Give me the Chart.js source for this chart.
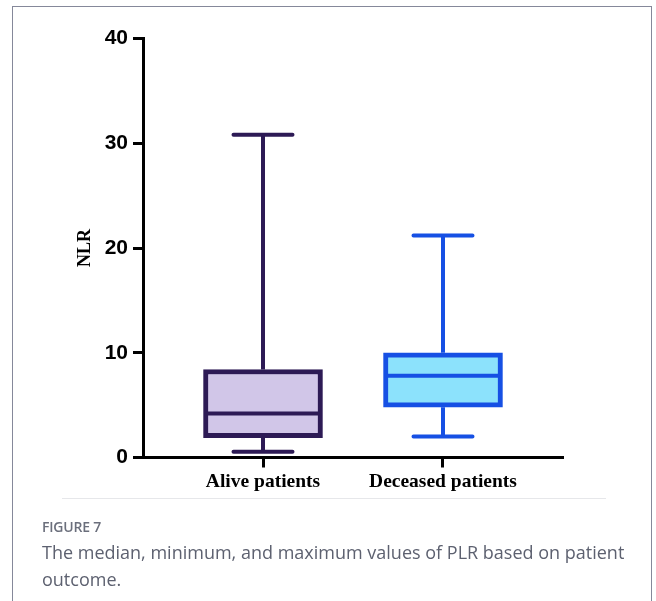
<!DOCTYPE html>
<html lang="en">
  <head>
    <meta charset="UTF-8" />
    <title>Figure 7 - NLR by outcome</title>
    <style>
      html,
      body {
        margin: 0;
        padding: 0;
        background: #fff;
      }
      .frame {
        position: absolute;
        left: 12px;
        top: 6px;
        width: 638px;
        height: 620px;
        border: 1.5px solid #85889a;
        border-bottom: none;
      }
      .chart-wrapper {
        position: absolute;
        left: 0;
        top: 0;
        width: 656px;
        height: 500px;
      }
      .rule {
        position: absolute;
        left: 62px;
        top: 498px;
        width: 544px;
        height: 1px;
        background: #e6e7ea;
      }
      .caption {
        position: absolute;
        left: 42px;
        top: 515px;
        width: 610px;
        font-family: "Open Sans", sans-serif;
        color: #5d6170;
      }
      .caption__label {
        font-size: 14px;
        font-weight: 600;
        letter-spacing: -0.2px;
        color: #6b6f7c;
        line-height: 24px;
      }
      .caption__text {
        font-size: 18px;
        font-weight: 400;
        line-height: 27px;
      }
    </style>
  </head>
  <body>
    <div class="frame"></div>
    <div class="chart-wrapper">
      <canvas id="chartBox" width="656" height="500"></canvas>
    </div>
    <div class="rule"></div>
    <div class="caption">
      <div class="caption__label">FIGURE 7</div>
      <div class="caption__text">
        The median, minimum, and maximum values of PLR based on patient
        outcome.
      </div>
    </div>
    <script src="https://cdn.jsdelivr.net/npm/chart.js"></script>
    <script>
      const groups = ["Alive patients", "Deceased patients"];
      const minValues = [0.55, 2.0];
      const q1Values = [1.9, 4.8];
      const medianValues = [4.2, 7.8];
      const q3Values = [8.4, 10.0];
      const maxValues = [30.8, 21.2];
      const yTicks = [0, 10, 20, 30, 40];

      const lineColors = ["#2d1a55", "#1650e4"];
      const fillColors = ["#d1c6e8", "#8ce2fc"];

      // whiskers, caps and median lines on top of the floating bars
      const whiskers = {
        id: "whiskers",
        afterDatasetsDraw(chart) {
          const { ctx, scales } = chart;
          const x = scales.x;
          const y = scales.y;
          const meta = chart.getDatasetMeta(0);
          ctx.save();
          ctx.lineWidth = 4;
          groups.forEach((g, i) => {
            const cx = x.getPixelForValue(i);
            const half = meta.data[i].width / 2;
            const cap = 31.5;
            ctx.strokeStyle = lineColors[i];
            ctx.lineCap = "butt";
            ctx.beginPath();
            ctx.moveTo(cx, y.getPixelForValue(q3Values[i]));
            ctx.lineTo(cx, y.getPixelForValue(maxValues[i]));
            ctx.moveTo(cx, y.getPixelForValue(q1Values[i]));
            ctx.lineTo(cx, y.getPixelForValue(minValues[i]));
            ctx.moveTo(cx - half + 3, y.getPixelForValue(medianValues[i]));
            ctx.lineTo(cx + half - 3, y.getPixelForValue(medianValues[i]));
            ctx.stroke();
            ctx.lineCap = "round";
            ctx.beginPath();
            ctx.moveTo(cx - cap + 2, y.getPixelForValue(maxValues[i]));
            ctx.lineTo(cx + cap - 2, y.getPixelForValue(maxValues[i]));
            ctx.moveTo(cx - cap + 2, y.getPixelForValue(minValues[i]));
            ctx.lineTo(cx + cap - 2, y.getPixelForValue(minValues[i]));
            ctx.stroke();
          });
          ctx.restore();
        },
      };

      new Chart(document.getElementById("chartBox"), {
        type: "bar",
        data: {
          datasets: [
            {
              data: groups.map((g, i) => ({ x: i, y: [q1Values[i], q3Values[i]] })),
              backgroundColor: fillColors,
              borderColor: lineColors,
              borderWidth: 5,
              borderSkipped: false,
              barThickness: 119,
            },
          ],
        },
        options: {
          responsive: false,
          animation: false,
          layout: {
            padding: { top: 38.5, right: 93, bottom: 0, left: 0 },
          },
          plugins: {
            legend: { display: false },
            tooltip: { enabled: false },
          },
          scales: {
            x: {
              type: "linear",
              min: -2 / 3,
              max: 5 / 3,
              offset: false,
              bounds: "data",
              afterBuildTicks(scale) {
                scale.ticks = groups.map((g, i) => ({ value: i }));
              },
              afterFit(scale) {
                scale.height = 42.5;
              },
              ticks: {
                callback: (v) => groups[v],
                color: "#000",
                padding: 3,
                font: {
                  family: "'Liberation Serif', 'Times New Roman', serif",
                  weight: "bold",
                  size: 19.5,
                },
              },
              grid: {
                offset: false,
                drawOnChartArea: false,
                tickLength: 10,
                tickWidth: 3,
                tickColor: "#000",
              },
              border: { color: "#000", width: 3 },
            },
            y: {
              min: 0,
              max: 40,
              afterBuildTicks(scale) {
                scale.ticks = yTicks.map((v) => ({ value: v }));
              },
              afterFit(scale) {
                scale.width = 143;
              },
              ticks: {
                color: "#000",
                padding: 5,
                font: {
                  family: "'Liberation Sans', Arial, sans-serif",
                  weight: "bold",
                  size: 21,
                },
              },
              title: {
                display: true,
                text: "NLR",
                color: "#000",
                padding: { top: 75, bottom: 0 },
                font: {
                  family: "'Liberation Serif', 'Times New Roman', serif",
                  weight: "bold",
                  size: 18,
                },
              },
              grid: {
                drawOnChartArea: false,
                tickLength: 10,
                tickWidth: 3,
                tickColor: "#000",
              },
              border: { color: "#000", width: 3 },
            },
          },
        },
        plugins: [whiskers],
      });
    </script>
  </body>
</html>
